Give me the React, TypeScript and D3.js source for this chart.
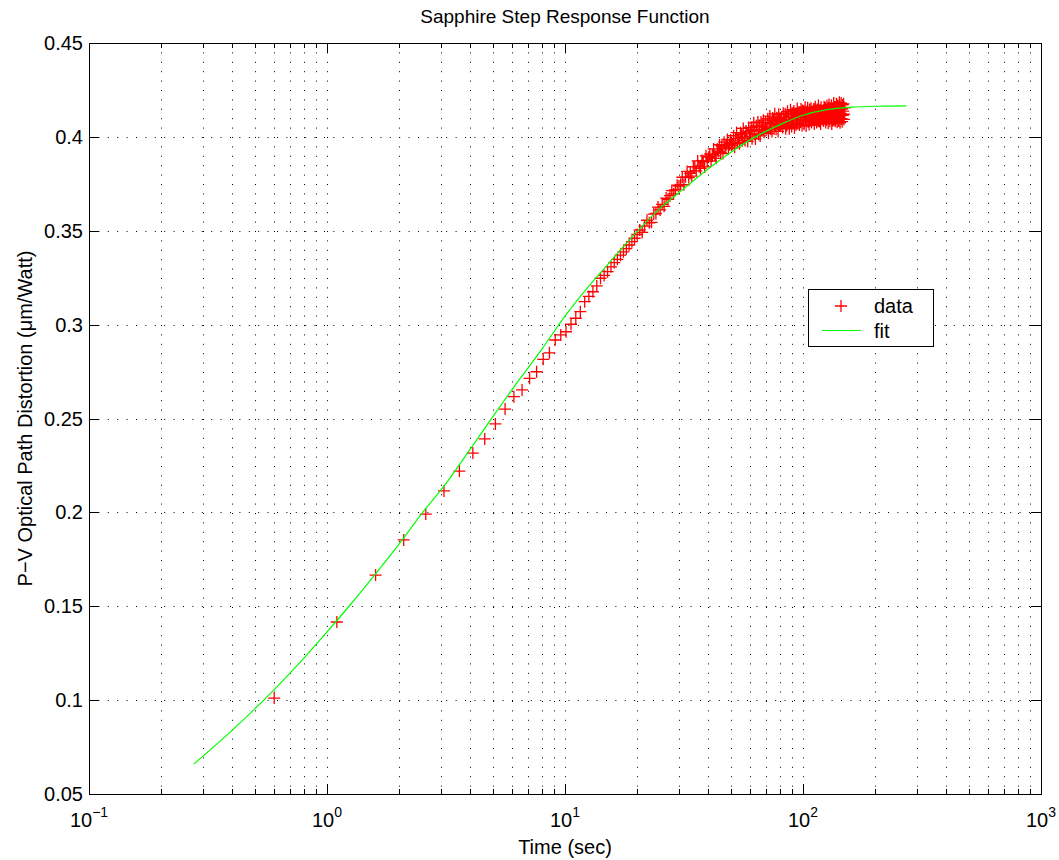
import React from "react";
import * as d3 from "d3";

// ---- data ----
const sampleTime: number[] = [
  0.6, 1.1, 1.6, 2.1, 2.6, 3.1, 3.6, 4.1, 4.6, 5.1,
  5.6, 6.1, 6.6, 7.1, 7.6, 8.1, 8.6, 9.1, 9.6, 10.1,
  10.6, 11.1, 11.6, 12.1, 12.6, 13.1, 13.6, 14.1, 14.6, 15.1,
  15.6, 16.1, 16.6, 17.1, 17.6, 18.1, 18.6, 19.1, 19.6, 20.1,
  20.6, 21.1, 21.6, 22.1, 22.6, 23.1, 23.6, 24.1, 24.6, 25.1,
  25.6, 26.1, 26.6, 27.1, 27.6, 28.1, 28.6, 29.1, 29.6, 30.1,
  30.6, 31.1, 31.6, 32.1, 32.6, 33.1, 33.6, 34.1, 34.6, 35.1,
  35.6, 36.1, 36.6, 37.1, 37.6, 38.1, 38.6, 39.1, 39.6, 40.1,
  40.6, 41.1, 41.6, 42.1, 42.6, 43.1, 43.6, 44.1, 44.6, 45.1,
  45.6, 46.1, 46.6, 47.1, 47.6, 48.1, 48.6, 49.1, 49.6, 50.1,
  50.6, 51.1, 51.6, 52.1, 52.6, 53.1, 53.6, 54.1, 54.6, 55.1,
  55.6, 56.1, 56.6, 57.1, 57.6, 58.1, 58.6, 59.1, 59.6, 60.1,
  60.6, 61.1, 61.6, 62.1, 62.6, 63.1, 63.6, 64.1, 64.6, 65.1,
  65.6, 66.1, 66.6, 67.1, 67.6, 68.1, 68.6, 69.1, 69.6, 70.1,
  70.6, 71.1, 71.6, 72.1, 72.6, 73.1, 73.6, 74.1, 74.6, 75.1,
  75.6, 76.1, 76.6, 77.1, 77.6, 78.1, 78.6, 79.1, 79.6, 80.1,
  80.6, 81.1, 81.6, 82.1, 82.6, 83.1, 83.6, 84.1, 84.6, 85.1,
  85.6, 86.1, 86.6, 87.1, 87.6, 88.1, 88.6, 89.1, 89.6, 90.1,
  90.6, 91.1, 91.6, 92.1, 92.6, 93.1, 93.6, 94.1, 94.6, 95.1,
  95.6, 96.1, 96.6, 97.1, 97.6, 98.1, 98.6, 99.1, 99.6, 100.1,
  100.6, 101.1, 101.6, 102.1, 102.6, 103.1, 103.6, 104.1, 104.6, 105.1,
  105.6, 106.1, 106.6, 107.1, 107.6, 108.1, 108.6, 109.1, 109.6, 110.1,
  110.6, 111.1, 111.6, 112.1, 112.6, 113.1, 113.6, 114.1, 114.6, 115.1,
  115.6, 116.1, 116.6, 117.1, 117.6, 118.1, 118.6, 119.1, 119.6, 120.1,
  120.6, 121.1, 121.6, 122.1, 122.6, 123.1, 123.6, 124.1, 124.6, 125.1,
  125.6, 126.1, 126.6, 127.1, 127.6, 128.1, 128.6, 129.1, 129.6, 130.1,
  130.6, 131.1, 131.6, 132.1, 132.6, 133.1, 133.6, 134.1, 134.6, 135.1,
  135.6, 136.1, 136.6, 137.1, 137.6, 138.1, 138.6, 139.1, 139.6, 140.1,
  140.6, 141.1, 141.6, 142.1, 142.6, 143.1, 143.6, 144.1, 144.6, 145.1,
  145.6, 146.1, 146.6, 147.1, 147.6, 148.1, 148.6, 149.1, 149.6,
];

const sampleValue: number[] = [
  0.1011, 0.1416, 0.1666, 0.1853, 0.1991, 0.2114, 0.2220, 0.2316, 0.2391, 0.2471,
  0.2550, 0.2616, 0.2652, 0.2714, 0.2749, 0.2815, 0.2850, 0.2918, 0.2945, 0.2962,
  0.3002, 0.3034, 0.3069, 0.3122, 0.3150, 0.3175, 0.3206, 0.3247, 0.3262, 0.3282,
  0.3308, 0.3330, 0.3348, 0.3370, 0.3388, 0.3405, 0.3424, 0.3442, 0.3460, 0.3480,
  0.3504, 0.3491, 0.3525, 0.3556, 0.3542, 0.3545, 0.3589, 0.3592, 0.3626, 0.3611,
  0.3641, 0.3630, 0.3674, 0.3667, 0.3687, 0.3714, 0.3696, 0.3719, 0.3743, 0.3738,
  0.3746, 0.3785, 0.3745, 0.3787, 0.3816, 0.3783, 0.3806, 0.3791, 0.3841, 0.3841,
  0.3819, 0.3872, 0.3842, 0.3832, 0.3874, 0.3867, 0.3840, 0.3899, 0.3869, 0.3892,
  0.3909, 0.3872, 0.3907, 0.3936, 0.3899, 0.3886, 0.3936, 0.3923, 0.3958, 0.3918,
  0.3950, 0.3911, 0.3972, 0.3941, 0.3958, 0.3986, 0.3937, 0.3958, 0.3983, 0.3955,
  0.3963, 0.4006, 0.3945, 0.3992, 0.4023, 0.3969, 0.3992, 0.3963, 0.4022, 0.4013,
  0.3979, 0.4045, 0.3999, 0.3981, 0.4031, 0.4018, 0.3976, 0.4050, 0.4004, 0.4030,
  0.4051, 0.3990, 0.4037, 0.4075, 0.4014, 0.3989, 0.4059, 0.4034, 0.4079, 0.4014,
  0.4057, 0.4005, 0.4079, 0.4036, 0.4056, 0.4089, 0.4024, 0.4048, 0.4076, 0.4038,
  0.4046, 0.4097, 0.4019, 0.4075, 0.4111, 0.4042, 0.4068, 0.4029, 0.4100, 0.4086,
  0.4042, 0.4123, 0.4065, 0.4041, 0.4102, 0.4083, 0.4029, 0.4120, 0.4061, 0.4092,
  0.4058, 0.4104, 0.4074, 0.4050, 0.4126, 0.4091, 0.4072, 0.4123, 0.4043, 0.4104,
  0.4060, 0.4136, 0.4086, 0.4117, 0.4043, 0.4073, 0.4144, 0.4105, 0.4055, 0.4126,
  0.4107, 0.4077, 0.4138, 0.4048, 0.4104, 0.4124, 0.4065, 0.4090, 0.4151, 0.4071,
  0.4117, 0.4132, 0.4063, 0.4103, 0.4079, 0.4149, 0.4115, 0.4060, 0.4141, 0.4091,
  0.4136, 0.4067, 0.4117, 0.4158, 0.4088, 0.4058, 0.4134, 0.4104, 0.4155, 0.4080,
  0.4125, 0.4066, 0.4146, 0.4096, 0.4117, 0.4152, 0.4077, 0.4103, 0.4133, 0.4088,
  0.4098, 0.4149, 0.4069, 0.4124, 0.4160, 0.4090, 0.4115, 0.4076, 0.4146, 0.4131,
  0.4086, 0.4167, 0.4107, 0.4082, 0.4142, 0.4123, 0.4068, 0.4158, 0.4098, 0.4128,
  0.4093, 0.4139, 0.4109, 0.4084, 0.4160, 0.4125, 0.4105, 0.4155, 0.4076, 0.4136,
  0.4091, 0.4166, 0.4117, 0.4147, 0.4072, 0.4102, 0.4172, 0.4133, 0.4083, 0.4153,
  0.4134, 0.4102, 0.4168, 0.4069, 0.4130, 0.4153, 0.4087, 0.4114, 0.4181, 0.4093,
  0.4143, 0.4159, 0.4083, 0.4127, 0.4100, 0.4177, 0.4139, 0.4078, 0.4167, 0.4111,
  0.4161, 0.4085, 0.4140, 0.4184, 0.4107, 0.4075, 0.4158, 0.4125, 0.4180, 0.4097,
  0.4148, 0.4081, 0.4170, 0.4115, 0.4137, 0.4176, 0.4093, 0.4121, 0.4154,
];

const fitTime: number[] = [
  0.276, 0.4, 0.6, 0.8, 1, 1.26, 1.6, 2, 2.5, 3.2, 4, 5, 6.3, 8, 10, 12.6, 16,
  20, 25, 32, 40, 50, 63, 80, 100, 126, 160, 200, 272,
];
const fitValue: number[] = [
  0.066, 0.084, 0.1056, 0.1224, 0.1363, 0.1512, 0.1673, 0.1828, 0.1993, 0.2163,
  0.2337, 0.2514, 0.2692, 0.287, 0.3045, 0.3205, 0.3355, 0.3493, 0.3618, 0.373,
  0.383, 0.392, 0.4, 0.4065, 0.4115, 0.4145, 0.4158, 0.4163, 0.4165,
];

const yTicks: number[] = [0.05, 0.1, 0.15, 0.2, 0.25, 0.3, 0.35, 0.4, 0.45];
const yTickLabels: string[] = ["0.05", "0.1", "0.15", "0.2", "0.25", "0.3", "0.35", "0.4", "0.45"];
const xDecades: number[] = [0.1, 1, 10, 100, 1000];
const xDecadeExponents: string[] = ["\u22121", "0", "1", "2", "3"];

const titleText = "Sapphire Step Response Function";
const xLabelText = "Time (sec)";
const yLabelText = "P\u2212V Optical Path Distortion (\u03bcm/Watt)";
const legendLabels: string[] = ["data", "fit"];

// ---- layout ----
const W = 1059;
const H = 860;
const L = 89;
const R = 1041;
const T = 43;
const B = 794;
const FONT = "'Liberation Sans', Arial, Helvetica, sans-serif";
const FS = 20;

export default function App() {
  const x = d3.scaleLog().domain([0.1, 1000]).range([L, R]);
  const y = d3.scaleLinear().domain([0.05, 0.45]).range([B, T]);
  const c = (v: number) => Math.round(v) + 0.5;

  const minor: number[] = [];
  xDecades.slice(0, -1).forEach((d) => {
    for (let k = 2; k <= 9; k++) minor.push(d * k);
  });
  const innerMajor = xDecades.slice(1, -1);

  const fitLine = d3
    .line<number>()
    .x((_, i) => x(fitTime[i]))
    .y((v) => y(v))
    .curve(d3.curveMonotoneX);

  const ms = 6;
  const crossPath = (px: number, py: number) =>
    `M${px - ms},${py}H${px + ms}M${px},${py - ms}V${py + ms}`;

  const dataPath = sampleValue
    .map((v, i) => crossPath(x(sampleTime[i]), y(v)))
    .join("");

  const dots = "1,8.4";

  return (
    <svg
      width={W}
      height={H}
      style={{ position: "absolute", left: 0, top: 0, background: "#fff" }}
      fontFamily={FONT}
    >
      <rect x={0} y={0} width={W} height={H} fill="#fff" />
      {/* grid */}
      <g stroke="#000" strokeWidth={1} strokeDasharray={dots} fill="none">
        {[...minor, ...innerMajor].map((v, i) => (
          <line key={"gx" + i} x1={c(x(v))} x2={c(x(v))} y1={T} y2={B} />
        ))}
        {yTicks.slice(1, -1).map((v, i) => (
          <line key={"gy" + i} x1={L} x2={R} y1={c(y(v))} y2={c(y(v))} />
        ))}
      </g>
      {/* ticks */}
      <g stroke="#000" strokeWidth={1}>
        {innerMajor.map((v, i) => (
          <g key={"mx" + i}>
            <line x1={c(x(v))} x2={c(x(v))} y1={B} y2={B - 10} />
            <line x1={c(x(v))} x2={c(x(v))} y1={T} y2={T + 10} />
          </g>
        ))}
        {minor.map((v, i) => (
          <g key={"nx" + i}>
            <line x1={c(x(v))} x2={c(x(v))} y1={B} y2={B - 5} />
            <line x1={c(x(v))} x2={c(x(v))} y1={T} y2={T + 5} />
          </g>
        ))}
        {yTicks.slice(1, -1).map((v, i) => (
          <g key={"my" + i}>
            <line x1={L} x2={L + 10} y1={c(y(v))} y2={c(y(v))} />
            <line x1={R} x2={R - 10} y1={c(y(v))} y2={c(y(v))} />
          </g>
        ))}
      </g>
      {/* data */}
      <path d={dataPath} stroke="#ff0000" strokeWidth={1.3} fill="none" />
      <path d={fitLine(fitValue) || ""} stroke="#00ff00" strokeWidth={1.2} fill="none" />
      {/* axes box */}
      <rect x={c(L)} y={c(T)} width={Math.round(R - L)} height={Math.round(B - T)} fill="none" stroke="#000" strokeWidth={1} />
      {/* y tick labels */}
      <g fontSize={FS} textAnchor="end" fill="#000">
        {yTicks.map((v, i) => (
          <text key={"ly" + i} x={L - 6} y={y(v) + 7}>
            {yTickLabels[i]}
          </text>
        ))}
      </g>
      {/* x tick labels */}
      <g fontSize={FS} fill="#000">
        {xDecades.map((v, i) => (
          <text key={"lx" + i} x={x(v)} y={827} textAnchor="middle">
            <tspan>10</tspan>
            <tspan fontSize={14} dy={-10}>
              {xDecadeExponents[i]}
            </tspan>
          </text>
        ))}
      </g>
      {/* title & labels */}
      <text x={(L + R) / 2} y={23} fontSize={19} textAnchor="middle">
        {titleText}
      </text>
      <text x={(L + R) / 2} y={854} fontSize={FS} textAnchor="middle">
        {xLabelText}
      </text>
      <text
        transform={`translate(32,${(T + B) / 2}) rotate(-90)`}
        fontSize={FS}
        textAnchor="middle"
      >
        {yLabelText}
      </text>
      {/* legend */}
      <g>
        <rect x={808.5} y={289.5} width={125} height={57} fill="#fff" stroke="#000" strokeWidth={1} />
        <path d={crossPath(841, 306)} stroke="#ff0000" strokeWidth={1.3} fill="none" />
        <text x={874} y={313} fontSize={FS}>
          {legendLabels[0]}
        </text>
        <line x1={822} x2={861} y1={330.5} y2={330.5} stroke="#00ff00" strokeWidth={1.2} />
        <text x={874} y={338} fontSize={FS}>
          {legendLabels[1]}
        </text>
      </g>
    </svg>
  );
}
